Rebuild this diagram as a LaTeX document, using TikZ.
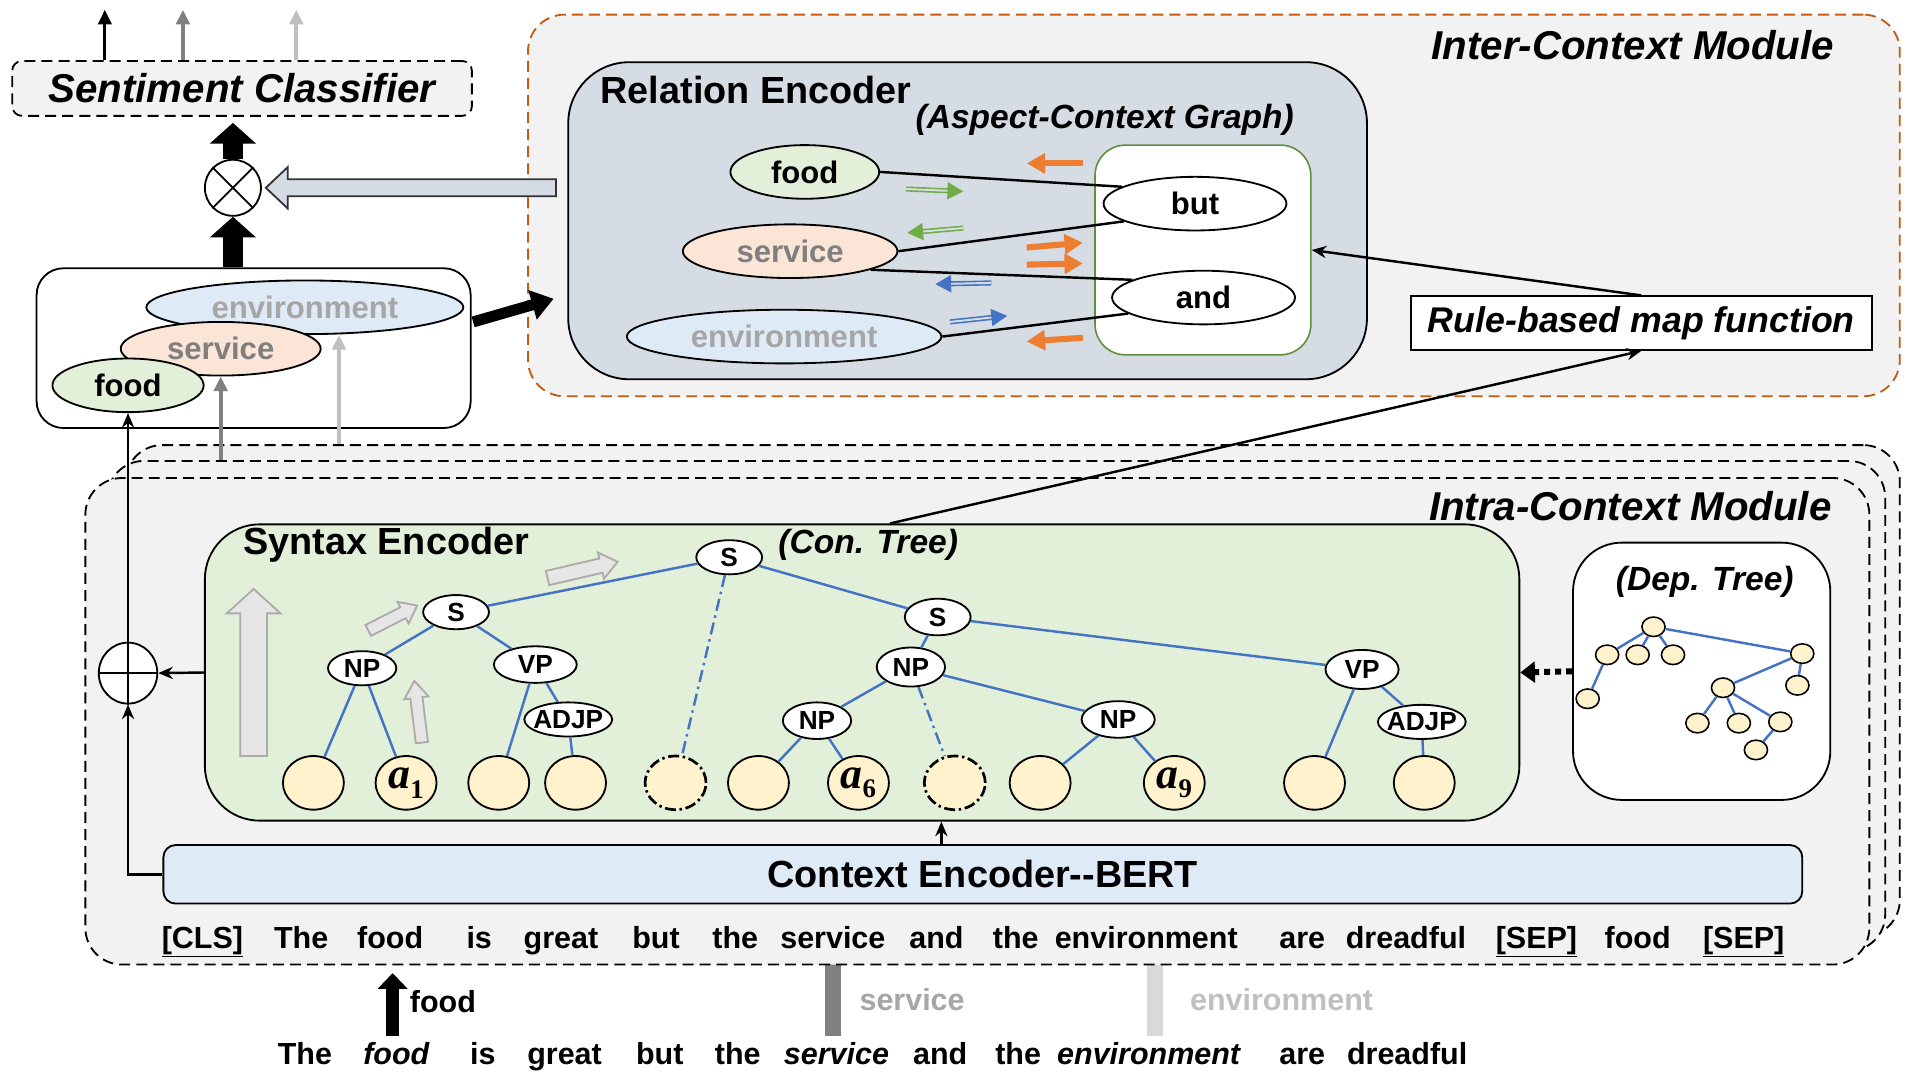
\documentclass[tikz,border=0pt]{standalone}
\usepackage{fontspec}
\setmainfont{Liberation Sans}
\newfontfamily\aserif{Liberation Serif}
\usetikzlibrary{shapes.geometric,arrows.meta}

\definecolor{bgg}{HTML}{F2F2F2}
\definecolor{obrd}{HTML}{C55A11}
\definecolor{relbg}{HTML}{D6DCE4}
\definecolor{fgreen}{HTML}{E2F0D9}
\definecolor{fpeach}{HTML}{FBE5D6}
\definecolor{fblue}{HTML}{DEEBF7}
\definecolor{fyel}{HTML}{FFF2CC}
\definecolor{tblue}{HTML}{4472C4}
\definecolor{agreen}{HTML}{70AD47}
\definecolor{aorange}{HTML}{ED7D31}
\definecolor{wgreen}{HTML}{5E8E3E}
\definecolor{gmid}{HTML}{808080}
\definecolor{glight}{HTML}{BFBFBF}
\definecolor{gbar}{HTML}{D9D9D9}
\definecolor{gtext}{HTML}{7F7F7F}
\definecolor{ltext}{HTML}{A6A6A6}
\definecolor{hfill}{HTML}{E7E6E6}
\definecolor{hdraw}{HTML}{AEAAAA}

\newcommand{\asp}[1]{{\aserif\bfseries\itshape a}\raisebox{-0.22em}{\fontsize{22}{24}\selectfont\aserif\bfseries #1}}

\tikzset{
  pics/barrow/.style args={#1/#2/#3/#4}{code={
    \path[pic actions] (0,-#2) -- ({#1-#4},-#2) -- ({#1-#4},-#3) -- (#1,0)
      -- ({#1-#4},#3) -- ({#1-#4},#2) -- (0,#2) -- cycle;
  }},
  box/.style={rectangle, draw=black, line width=1.5pt, inner sep=0pt},
  dbox/.style={rectangle, draw=black, line width=1.5pt, dash pattern=on 9pt off 5pt, inner sep=0pt},
  ell/.style={ellipse, draw=black, line width=1.5pt, inner sep=-20pt, minimum height=44pt,
              font=\fontsize{25.5}{28}\selectfont\bfseries},
  tn/.style={ellipse, draw=black, line width=1.5pt, fill=white, inner sep=-20pt,
             font=\fontsize{21.5}{24}\selectfont\bfseries},
  leaf/.style={ellipse, draw=black, line width=1.5pt, fill=fyel, minimum width=50pt,
               minimum height=44pt, inner sep=-20pt, font=\fontsize{36}{38}\selectfont},
  dleaf/.style={leaf, line width=2.2pt, dash pattern=on 9pt off 3pt on 2pt off 3pt},
  dn/.style={ellipse, draw=black, line width=1.3pt, fill=fyel, minimum width=19pt,
             minimum height=16pt, inner sep=0pt},
  tedge/.style={draw=tblue, line width=2pt},
  dedge/.style={tedge, dash pattern=on 10pt off 4pt on 2pt off 4pt},
  ttl/.style={font=\fontsize{33}{36}\selectfont\bfseries\itshape},
  hdr/.style={font=\fontsize{31}{34}\selectfont\bfseries},
  sub/.style={font=\fontsize{27.5}{30}\selectfont\bfseries\itshape},
  tok/.style={font=\fontsize{25}{28}\selectfont\bfseries, anchor=base, inner sep=0pt},
  conn/.style={line width=2pt, -{Stealth[length=12pt,width=10pt]}},
  oarr/.style={draw=aorange, line width=5pt, -{Triangle[length=15pt,width=16pt]}},
  garr/.style={draw=agreen, double=relbg, double distance=1.6pt, line width=1.3pt,
               -{Triangle[length=13pt,width=14pt]}},
  barr/.style={draw=tblue, double=relbg, double distance=1.6pt, line width=1.3pt,
               -{Triangle[length=13pt,width=14pt]}},
}

\begin{document}
\begin{tikzpicture}[x=1pt, y=-1pt, font=\bfseries]
\useasboundingbox (0,0) rectangle (1568,879);

% ---------- bars from below (partly behind the modules)
\coordinate (sb0) at (683,850); \coordinate (sb1) at (683,776);
\coordinate (eb0) at (947,850); \coordinate (eb1) at (947,776);
\draw[gmid, line width=13pt] (sb0) -- (sb1);
\draw[gbar, line width=13pt] (eb0) -- (eb1);

% ---------- intra-context stacked modules
\node[dbox, fill=bgg, rounded corners=30pt, minimum width=1455pt, minimum height=403pt] (intra3) at (830.5,566.5) {};
\node[dbox, fill=bgg, rounded corners=30pt, minimum width=1458pt, minimum height=402pt] (intra2) at (817,579) {};
\node[dbox, fill=bgg, rounded corners=30pt, minimum width=1463pt, minimum height=399pt] (intra1) at (801.5,591.5) {};

% ---------- inter-context module
\node[dbox, draw=obrd, fill=bgg, rounded corners=30pt, minimum width=1125pt, minimum height=313pt] (inter) at (995.5,168.5) {};

% ---------- sentiment classifier and left box
\node[dbox, fill=bgg, rounded corners=8pt, minimum width=377pt, minimum height=45pt, ttl] (sent) at (198.5,72.5) {Sentiment Classifier};
\node[box, fill=white, rounded corners=22pt, minimum width=356pt, minimum height=131pt] (lbox) at (208,285.5) {};

% ---------- relation encoder
\node[box, fill=relbg, rounded corners=50pt, minimum width=655pt, minimum height=260pt] (rel) at (793.5,181) {};
\node[rectangle, draw=wgreen, line width=1.3pt, fill=white, rounded corners=25pt, minimum width=177pt, minimum height=172pt] (wr) at (986.5,205) {};
\node[box, fill=white, minimum width=378pt, minimum height=44pt, font=\fontsize{29.3}{32}\selectfont\bfseries\itshape] (rule) at (1346,265) {Rule-based map function};

% ---------- syntax encoder, dep tree, BERT
\node[box, fill=fgreen, rounded corners=45pt, minimum width=1078pt, minimum height=243pt] (syn) at (707,551.5) {};
\node[box, fill=white, rounded corners=40pt, minimum width=211pt, minimum height=211pt] (dep) at (1395.5,550.5) {};
\node[box, fill=fblue, rounded corners=10pt, minimum width=1344pt, minimum height=48pt, hdr] (bert) at (806,717) {Context Encoder\mbox{-}\mbox{-}BERT};

% ---------- titles
\node[ttl] (intertitle) at (1339,37) {Inter-Context Module};
\node[ttl] (intratitle) at (1337,415) {Intra-Context Module};
\node[hdr, anchor=west] (reltitle) at (489,74) {Relation Encoder};
\node[sub] (acg) at (906,98) {(Aspect-Context Graph)};
\node[hdr, anchor=west] (syntitle) at (196,447) {Syntax Encoder};
\node[sub] (contree) at (712,447) {(Con. Tree)};
\node[sub] (deptree) at (1398,477) {(Dep. Tree)};

% ---------- left box aspects
\node[ell, fill=fblue, text=ltext, minimum width=260pt] (lenv) at (250,252) {environment};
\node[ell, fill=fpeach, text=gtext, minimum width=164pt] (lserv) at (181,286) {service};
\node[ell, fill=fgreen, minimum width=124pt] (lfood) at (105,316) {food};

% ---------- combination operators
\node[circle, draw=black, line width=1.5pt, fill=white, minimum size=46pt, inner sep=0pt] (ot) at (191,154) {};
\draw[line width=1.5pt] (ot.45) -- (ot.225) (ot.135) -- (ot.315);
\node[ellipse, draw=black, line width=1.5pt, fill=white, minimum width=48pt, minimum height=50pt, inner sep=0pt] (pl) at (105,552) {};
\draw[line width=1.5pt] (pl.west) -- (pl.east) (pl.north) -- (pl.south);

% ---------- output arrows
\coordinate (o1) at (86,8); \coordinate (o2) at (150,8); \coordinate (o3) at (243,8);
\draw[line width=2.5pt, -{Triangle[length=12pt,width=11pt]}] (sent.north -| o1) -- (o1);
\draw[gmid, line width=3pt, -{Triangle[length=12pt,width=11pt]}] (sent.north -| o2) -- (o2);
\draw[glight, line width=3pt, -{Triangle[length=12pt,width=11pt]}] (sent.north -| o3) -- (o3);
\draw[line width=17pt, -{Triangle[length=17pt,width=37pt]}] (lbox.north -| ot) -- (ot.south);
\draw[line width=17pt, -{Triangle[length=17pt,width=37pt]}, shorten >=5pt] (ot.north) -- (sent.south -| ot);
\pic[fill=relbg, draw=black!80, line width=1.5pt, rotate=180] at (456,154) {barrow=238/7/17/18};
\coordinate (la1) at (388,264); \coordinate (la2) at (454,245);
\draw[line width=9pt, -{Triangle[length=18pt,width=24pt]}] (la1) -- (la2);

% ---------- relation graph
\node[ell, fill=fgreen, minimum width=122pt] (rfood) at (660,141) {food};
\node[ell, fill=fpeach, text=gtext, minimum width=176pt] (rserv) at (648,206) {service};
\node[ell, fill=fblue, text=ltext, minimum width=258pt] (renv) at (643,276) {environment};
\node[ell, fill=white, minimum width=150pt] (but) at (980,167) {but};
\node[ell, fill=white, minimum width=150pt] (and) at (987,244) {and};
\draw[line width=2pt] (rfood.east) -- (but.167);
\draw[line width=2pt] (rserv.east) -- (but.194);
\draw[line width=2pt] (rserv.-13) -- (and.166);
\draw[line width=2pt] (renv.east) -- (and.192);
\draw[oarr] (888,134) -- (842,134);
\draw[oarr] (842,203) -- (888,199);
\draw[oarr] (842,217) -- (888,216);
\draw[oarr] (888,277) -- (842,280);
\draw[garr] (743,155) -- (790,157);
\draw[garr] (790,187) -- (744,191);
\draw[barr] (813,232) -- (767,233);
\draw[barr] (779,264) -- (826,259);
\draw[conn] (rule.north) -- (wr.east);
\coordinate (sx) at (730,0);
\draw[conn] (syn.north -| sx) -- (rule.south);

% ---------- syntax encoder contents
\pic[fill=hfill, draw=hdraw, line width=1.5pt, rotate=90] at (208,620) {barrow=137/11/22/20};
\pic[fill=hfill, draw=hdraw, line width=1.5pt, rotate=27] at (302,517) {barrow=45/5/10/13};
\pic[fill=hfill, draw=hdraw, line width=1.5pt, rotate=97] at (346,609) {barrow=51/5/10/14};
\pic[fill=hfill, draw=hdraw, line width=1.5pt, rotate=13] at (449,474) {barrow=59/6/11/14};

\node[tn, minimum width=54pt, minimum height=28pt] (s0) at (598,457) {S};
\node[tn, minimum width=54pt, minimum height=28pt] (s1) at (374,502) {S};
\node[tn, minimum width=56pt, minimum height=28pt] (np1) at (297,548) {NP};
\node[tn, minimum width=68pt, minimum height=30pt] (vp1) at (439,545) {VP};
\node[tn, minimum width=72pt, minimum height=28pt] (adjp1) at (466,590) {ADJP};
\node[tn, minimum width=54pt, minimum height=30pt] (s2) at (769,506) {S};
\node[tn, minimum width=56pt, minimum height=32pt] (np2) at (747,547) {NP};
\node[tn, minimum width=56pt, minimum height=30pt] (np3) at (670,591) {NP};
\node[tn, minimum width=60pt, minimum height=30pt] (np4) at (917,590) {NP};
\node[tn, minimum width=60pt, minimum height=32pt] (vp2) at (1117,549) {VP};
\node[tn, minimum width=72pt, minimum height=28pt] (adjp2) at (1166,592) {ADJP};

\node[leaf] (l1) at (257,642) {};
\node[leaf] (l2) at (333,642) {\asp{1}};
\node[leaf] (l3) at (409,642) {};
\node[leaf] (l4) at (472,642) {};
\node[dleaf] (l5) at (554,642) {};
\node[leaf] (l6) at (622,642) {};
\node[leaf] (l7) at (704,642) {\asp{6}};
\node[dleaf] (l8) at (783,642) {};
\node[leaf] (l9) at (853,642) {};
\node[leaf] (l10) at (963,642) {\asp{9}};
\node[leaf] (l11) at (1078,642) {};
\node[leaf] (l12) at (1168,642) {};

\draw[tedge] (s0) -- (s1);
\draw[dedge] (s0) -- (l5);
\draw[tedge] (s0) -- (s2);
\draw[tedge] (s1) -- (np1);
\draw[tedge] (s1) -- (vp1);
\draw[tedge] (np1) -- (l1);
\draw[tedge] (np1) -- (l2);
\draw[tedge] (vp1) -- (l3);
\draw[tedge] (vp1) -- (adjp1);
\draw[tedge] (adjp1) -- (l4);
\draw[tedge] (s2) -- (np2);
\draw[tedge] (s2) -- (vp2);
\draw[tedge] (np2) -- (np3);
\draw[dedge] (np2) -- (l8);
\draw[tedge] (np2) -- (np4);
\draw[tedge] (np3) -- (l6);
\draw[tedge] (np3) -- (l7);
\draw[tedge] (np4) -- (l9);
\draw[tedge] (np4) -- (l10);
\draw[tedge] (vp2) -- (l11);
\draw[tedge] (vp2) -- (adjp2);
\draw[tedge] (adjp2) -- (l12);

% ---------- dependency tree
\node[dn] (d0) at (1356,514) {};
\node[dn] (d1) at (1318,537) {};
\node[dn] (d2) at (1343,537) {};
\node[dn] (d3) at (1372,537) {};
\node[dn] (d4) at (1478,536) {};
\node[dn] (d5) at (1302,573) {};
\node[dn] (d6) at (1413,564) {};
\node[dn] (d7) at (1474,562) {};
\node[dn] (d8) at (1392,593) {};
\node[dn] (d9) at (1426,593) {};
\node[dn] (d10) at (1460,592) {};
\node[dn] (d11) at (1440,615) {};
\foreach \a/\b in {d0/d1,d0/d2,d0/d3,d0/d4,d1/d5,d4/d6,d4/d7,d6/d8,d6/d9,d6/d10,d10/d11}
  \draw[tedge] (\a) -- (\b);
\draw[line width=5pt, dash pattern=on 5pt off 4pt, -{Triangle[length=12pt,width=17pt]}] (dep.west) -- (syn.east);

% ---------- left-side connectors
\draw[conn] (syn.west) -- (pl.east);
\draw[conn] (bert.west) -| (pl.south);
\draw[conn] (pl.north) -- (lfood.south);
\coordinate (g1) at (181,0); \coordinate (g2) at (278,0);
\draw[gmid, line width=3pt, -{Triangle[length=12pt,width=11pt]}] (intra2.north -| g1) -- (lserv.south);
\draw[glight, line width=3pt, -{Triangle[length=12pt,width=11pt]}] (intra3.north -| g2) -- (g2 |- lenv.south);
\coordinate (bx) at (772,0);
\draw[conn] (bert.north -| bx) -- (syn.south -| bx);

% ---------- token row
\node[tok] (t1) at (166,778) {\underline{[CLS]}};
\node[tok] (t2) at (247,778) {The};
\node[tok] (t3) at (320,778) {food};
\node[tok] (t4) at (393,778) {is};
\node[tok] (t5) at (460,778) {great};
\node[tok] (t6) at (538,778) {but};
\node[tok] (t7) at (603,778) {the};
\node[tok] (t8) at (683,778) {service};
\node[tok] (t9) at (768,778) {and};
\node[tok] (t10) at (833,778) {the};
\node[tok] (t11) at (940,778) {environment};
\node[tok] (t12) at (1068,778) {are};
\node[tok] (t13) at (1153,778) {dreadful};
\node[tok] (t14) at (1260,778) {\underline{[SEP]}};
\node[tok] (t15) at (1343,778) {food};
\node[tok] (t16) at (1430,778) {\underline{[SEP]}};

% ---------- bottom aspects and sentence
\coordinate (fa) at (322,850); \coordinate (fb) at (322,798);
\draw[line width=11pt, -{Triangle[length=13pt,width=24pt]}] (fa) -- (fb);
\node[tok, anchor=west] (bfood) at (336,821) {food};
\node[tok, anchor=center, text=ltext] (bserv) at (748,820) {service};
\node[tok, anchor=center, text=glight] (benv) at (1051,820) {environment};

\node[tok] (u1) at (250,873) {The};
\node[tok] (u2) at (325,873) {\itshape food};
\node[tok] (u3) at (396,873) {is};
\node[tok] (u4) at (463,873) {great};
\node[tok] (u5) at (541,873) {but};
\node[tok] (u6) at (605,873) {the};
\node[tok] (u7) at (686,873) {\itshape service};
\node[tok] (u8) at (771,873) {and};
\node[tok] (u9) at (835,873) {the};
\node[tok] (u10) at (942,873) {\itshape environment};
\node[tok] (u11) at (1068,873) {are};
\node[tok] (u12) at (1154,873) {dreadful};
\end{tikzpicture}
\end{document}
